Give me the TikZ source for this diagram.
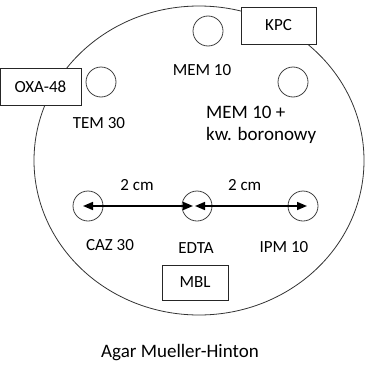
\documentclass[tikz,border=0pt]{standalone}
\usepackage{fontspec}
\setmainfont{Carlito}
\usepackage{xcolor}
\usetikzlibrary{arrows.meta,positioning,calc}

\begin{document}
\begin{tikzpicture}[
  x=1pt,y=-1pt,
  lab/.style={font=\fontsize{17}{20}\selectfont,text=black,inner sep=0pt},
  biglab/.style={font=\fontsize{19}{22}\selectfont,text=black,inner sep=0pt},
  disk/.style={draw=black!75,circle,minimum size=30pt,inner sep=0pt,line width=0.8pt},
  tag/.style={draw=black!85,fill=white,line width=0.8pt,font=\fontsize{17}{20}\selectfont,inner sep=0pt},
  dim/.style={{Triangle[length=10pt,width=8pt]}-{Triangle[length=10pt,width=8pt]},line width=1.6pt}
]
\useasboundingbox (0,0) rectangle (369,364);
% plate
\draw[black!80,line width=0.8pt] (199,160.5) ellipse [x radius=165,y radius=154.5];
% disks
\node[disk] (memdisk) at (208,31) {};
\node[disk] (temdisk) at (101,82) {};
\node[disk] (borodisk) at (293,82) {};
\node[disk] (cazdisk) at (88,206) {};
\node[disk] (edtadisk) at (197,206) {};
\node[disk] (ipmdisk) at (303,206) {};
% disk labels
\node[lab] (memlab) at (202,70) {MEM 10};
\node[lab] (temlab) at (99,123) {TEM 30};
\node[biglab,align=left,anchor=west] (borolab) at (206,125) {MEM 10 +\\kw. boronowy};
\node[lab] (cazlab) at (110,245) {CAZ 30};
\node[lab] (edtalab) at (196,248) {EDTA};
\node[lab] (ipmlab) at (284,247) {IPM 10};
% enzymes
\node[tag,minimum width=75pt,minimum height=37pt] (kpc) at (278.5,25.5) {KPC};
\node[tag,minimum width=81pt,minimum height=37pt] (oxa) at (40.5,86.5) {OXA-48};
\node[tag,minimum width=66pt,minimum height=35pt] (mbl) at (195,282.5) {MBL};
% distances
\draw[dim,shorten <=-5pt,shorten >=4pt] (cazdisk.center) -- node[lab,above=15pt,pos=0.45] {2 cm} (edtadisk.center);
\draw[dim,shorten <=-2pt,shorten >=-4pt] (edtadisk.center) -- node[lab,above=15pt,pos=0.45] {2 cm} (ipmdisk.center);
\node[biglab] (agar) at (180,353) {Agar Mueller-Hinton};
\end{tikzpicture}
\end{document}
